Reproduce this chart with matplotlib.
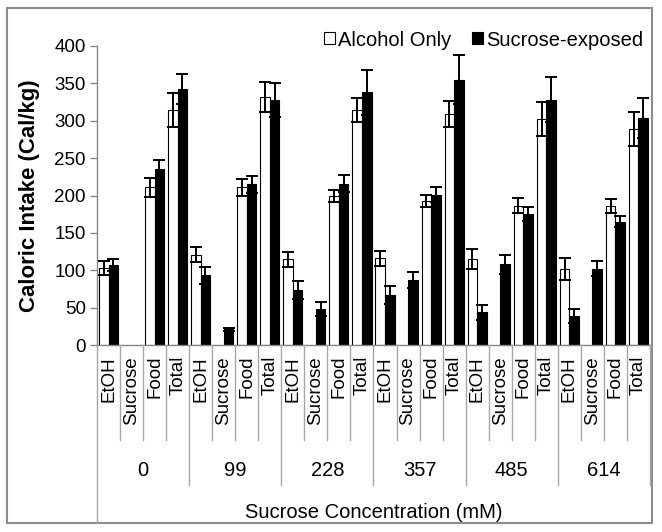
import matplotlib
matplotlib.use("Agg")
import matplotlib.pyplot as plt
import numpy as np
from matplotlib.patches import Rectangle, Patch
from matplotlib.lines import Line2D
from matplotlib.transforms import blended_transform_factory

plt.rcParams["font.family"] = ["Liberation Sans", "DejaVu Sans"]

concentrations = ["0", "99", "228", "357", "485", "614"]
measures = ["EtOH", "Sucrose", "Food", "Total"]

alcohol_only = [
    103, 0, 211, 314,
    121, 0, 211, 332,
    115, 0, 199, 314,
    116, 0, 193, 309,
    115, 0, 186, 302,
    102, 0, 186, 289,
]
alcohol_only_err = [
    10, 0, 13, 23,
    10, 0, 11, 20,
    10, 0, 8, 16,
    10, 0, 8, 17,
    13, 0, 10, 23,
    15, 0, 9, 23,
]
sucrose_exposed = [
    107, 0, 235, 342,
    93, 21, 215, 328,
    73, 48, 216, 338,
    67, 87, 201, 355,
    44, 108, 175, 328,
    39, 102, 165, 304,
]
sucrose_exposed_err = [
    8, 0, 12, 20,
    11, 2, 11, 23,
    12, 9, 11, 30,
    12, 11, 10, 33,
    10, 13, 9, 30,
    9, 10, 7, 27,
]

W, H = 662, 532


def fy(px):
    # пиксели сверху -> координаты фигуры
    return 1 - px / H


fig = plt.figure(figsize=(W / 100, H / 100), dpi=100)
ax = fig.add_axes([97 / W, fy(345), (650 - 97) / W, (345 - 46) / H])

n = len(alcohol_only)
x = np.arange(n)
bw = 0.415

a = np.array(alcohol_only, dtype=float)
s = np.array(sucrose_exposed, dtype=float)
ae = np.array(alcohol_only_err, dtype=float)
se = np.array(sucrose_exposed_err, dtype=float)

ma = a > 0
ms = s > 0
ax.bar(x[ma] - bw / 2, a[ma], bw, color="white", edgecolor="black", linewidth=0.8, zorder=2)
ax.bar(x[ms] + bw / 2, s[ms], bw, color="black", edgecolor="black", linewidth=0.8, zorder=2)
ax.errorbar(x[ma] - bw / 2, a[ma], yerr=ae[ma], fmt="none", ecolor="black",
            elinewidth=1.4, capsize=4.5, capthick=1.4, zorder=3)
ax.errorbar(x[ms] + bw / 2, s[ms], yerr=se[ms], fmt="none", ecolor="black",
            elinewidth=1.4, capsize=4.5, capthick=1.4, zorder=3)

ax.set_xlim(-0.5, n - 0.5)
ax.set_ylim(0, 400)
ax.set_yticks(np.arange(0, 401, 50))
ax.set_xticks([])
ax.tick_params(axis="y", labelsize=13.5, length=5, width=1, color="#868686", pad=3)
for side in ["top", "right"]:
    ax.spines[side].set_visible(False)
for side in ["left", "bottom"]:
    ax.spines[side].set_color("#868686")
    ax.spines[side].set_linewidth(1)

fig.text(30 / W, fy(196), "Caloric Intake (Cal/kg)", rotation=90, fontsize=16,
         fontweight="bold", ha="center", va="center")

# Многоуровневая подпись оси X
tr = blended_transform_factory(ax.transData, fig.transFigure)
sep_color = "#a6a6a6"
for i in range(n):
    ax.text(i, fy(356), measures[i % 4], rotation=90, fontsize=13.5,
            ha="center", va="top", transform=tr)
for k in range(n + 1):
    xb = k - 0.5
    if k == 0:
        y_end = 523
    elif k % 4 == 0:
        y_end = 485
    else:
        y_end = 440
    fig.add_artist(Line2D([xb, xb], [fy(345), fy(y_end)], transform=tr,
                          color=sep_color, linewidth=1))
for g, c in enumerate(concentrations):
    ax.text(4 * g + 1.5, fy(470), c, fontsize=14.5, ha="center", va="center", transform=tr)

ax.text(0.5 * (n - 1), fy(513), "Sucrose Concentration (mM)", fontsize=14.5,
        ha="center", va="center", transform=tr)

handles = [
    Patch(facecolor="white", edgecolor="black", linewidth=0.8, label="Alcohol Only"),
    Patch(facecolor="black", edgecolor="black", linewidth=0.8, label="Sucrose-exposed"),
]
fig.legend(handles=handles, loc="center right", bbox_to_anchor=(643 / W, fy(40)),
           ncol=2, frameon=False, fontsize=14.5, handlelength=0.55, handleheight=0.55,
           handletextpad=0.15, columnspacing=1.0, borderaxespad=0, borderpad=0)

fig.patches.append(Rectangle((7 / W, fy(523)), 645 / W, (523 - 8) / H,
                             transform=fig.transFigure, fill=False,
                             edgecolor="#8c8c8c", linewidth=1.5))

fig.savefig("out.png", dpi=100)
plt.close(fig)
